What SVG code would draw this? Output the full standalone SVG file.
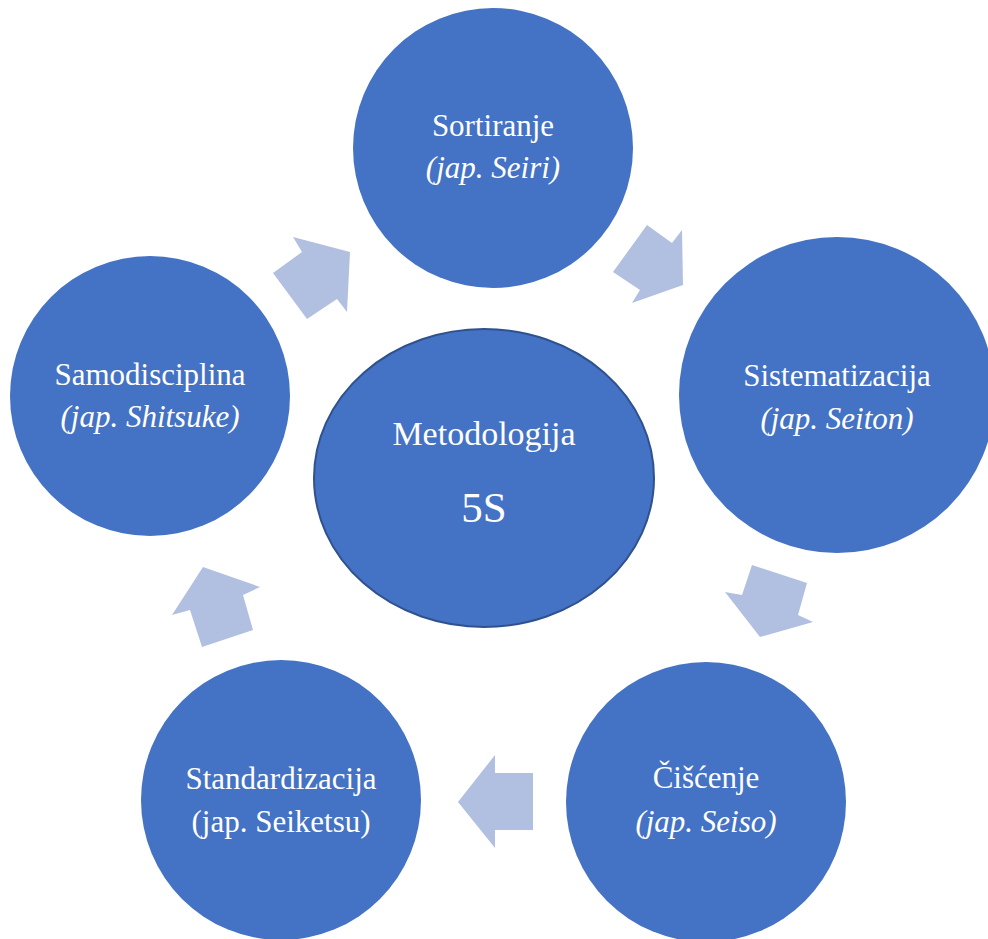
<svg xmlns="http://www.w3.org/2000/svg" width="988" height="939" viewBox="0 0 988 939" font-family="Liberation Serif, Times New Roman, DejaVu Serif, serif">
<style>
.c{fill:#4472C4}
.ctr{fill:#4472C4;stroke:#2F528F;stroke-width:2}
.a{fill:#B1BFE1}
.t{font-family:'Liberation Serif','Times New Roman','DejaVu Serif',serif;fill:#FFFFFF;text-anchor:middle;font-size:31px}
.i{font-style:italic}
</style>
<rect width="988" height="939" fill="#FFFFFF"/>
<g id="connectors">
<polygon class="a" points="293,237 350,252 347,312 337,299 307,319 273,273 302,252"/>
<polygon class="a" points="647,225 672,243 682,230 683,285 632,303 640,290 613,272"/>
<polygon class="a" points="752,565 807,583 798,615 813,622 760,637 725,592 742,595"/>
<polygon class="a" points="495,755 495,773 533,773 533,830 495,830 495,848 458,802"/>
<polygon class="a" points="203,567 260,587 243,595 253,630 202,647 190,610 172,615"/>
</g>
<g id="center">
<ellipse class="ctr" cx="484" cy="478" rx="170" ry="149"/>
<text class="t" x="484" y="445" style="font-size:34px">Metodologija</text>
<text class="t" x="484" y="522" style="font-size:43px">5S</text>
</g>
<g id="sortiranje">
<circle class="c" cx="493" cy="148" r="140"/>
<text class="t" x="493" y="136">Sortiranje</text>
<text class="t i" x="493" y="178">(jap. Seiri)</text>
</g>
<g id="sistematizacija">
<circle class="c" cx="837" cy="395" r="158"/>
<text class="t" x="837" y="386">Sistematizacija</text>
<text class="t i" x="837" y="429">(jap. Seiton)</text>
</g>
<g id="ciscenje">
<circle class="c" cx="706" cy="802" r="140"/>
<text class="t" x="706" y="788">Čišćenje</text>
<text class="t i" x="706" y="832">(jap. Seiso)</text>
</g>
<g id="standardizacija">
<circle class="c" cx="281" cy="800" r="140"/>
<text class="t" x="281" y="789">Standardizacija</text>
<text class="t" x="281" y="832">(jap. Seiketsu)</text>
</g>
<g id="samodisciplina">
<circle class="c" cx="150" cy="396" r="140"/>
<text class="t" x="150" y="385">Samodisciplina</text>
<text class="t i" x="150" y="427">(jap. Shitsuke)</text>
</g>
</svg>
